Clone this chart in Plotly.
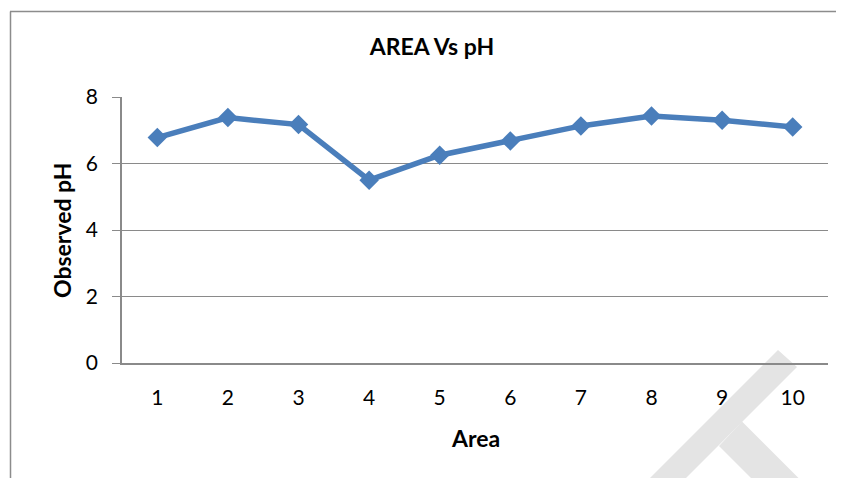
import plotly.graph_objects as go

# ---- data ----
areas = [1, 2, 3, 4, 5, 6, 7, 8, 9, 10]
area_labels = ["1", "2", "3", "4", "5", "6", "7", "8", "9", "10"]
observed_ph = [6.78, 7.38, 7.17, 5.50, 6.25, 6.68, 7.13, 7.43, 7.30, 7.10]
y_ticks = [0, 2, 4, 6, 8]

OFF = 8  # page body margin
W, H = 844 - OFF, 478 - OFF
L, R, T, B = 122 - OFF, 16, 97 - OFF, 115
PW, PH = W - L - R, H - T - B


def px(x):
    # x given in window pixels
    return (x - OFF - L) / PW


def py(y):
    return (H - B - (y - OFF)) / PH


def path(pts):
    return "M " + " L ".join(f"{px(a):.5f},{py(b):.5f}" for a, b in pts) + " Z"


FONT = "Lato, 'Noto Sans', sans-serif"
GRID = "#8a8a8a"
BLUE = "#4a7ebb"

fig = go.Figure()
fig.add_trace(go.Scatter(
    x=areas, y=observed_ph, mode="lines+markers",
    line=dict(color=BLUE, width=5.5),
    marker=dict(symbol="diamond", size=15, color=BLUE),
    showlegend=False, hoverinfo="x+y",
))

shapes = [
    # watermark strokes
    dict(type="path", xref="paper", yref="paper", layer="below",
         path=path([(650, 478), (778, 350), (797, 367), (686, 478)]),
         fillcolor="#e4e4e4", line=dict(width=0)),
    dict(type="path", xref="paper", yref="paper", layer="below",
         path=path([(719, 446), (742, 421.5), (798.5, 478), (751, 478)]),
         fillcolor="#e4e4e4", line=dict(width=0)),
    # chart border (top and left)
    dict(type="line", xref="paper", yref="paper", x0=px(10), x1=px(880), y0=py(11.5), y1=py(11.5),
         line=dict(color="#8c8c8c", width=1.5)),
    dict(type="line", xref="paper", yref="paper", x0=px(10.5), x1=px(10.5), y0=py(11.5), y1=py(478),
         line=dict(color="#8c8c8c", width=1.5)),
]

annotations = [
    dict(text="Observed pH", xref="paper", yref="paper", x=px(62), y=py(230),
         textangle=-90, showarrow=False, xanchor="center", yanchor="middle",
         font=dict(family=FONT, size=23, color="#000", weight="bold")),
    dict(text="Area", xref="paper", yref="paper", x=px(475), y=py(438),
         showarrow=False, xanchor="center", yanchor="middle",
         font=dict(family=FONT, size=23, color="#000", weight="bold")),
]

fig.update_layout(
    width=W, height=H,
    margin=dict(l=L, r=R, t=T, b=B, pad=0),
    paper_bgcolor="white", plot_bgcolor="rgba(0,0,0,0)",
    title=dict(text="AREA Vs pH", x=(432 - OFF) / W, xref="container", xanchor="center",
               y=1 - (47 - OFF) / H, yref="container", yanchor="middle",
               font=dict(family=FONT, size=23, color="#000", weight="bold")),
    shapes=shapes, annotations=annotations,
    font=dict(family=FONT, color="#000"),
)
fig.update_xaxes(
    range=[0.5, 10.5], tickmode="array", tickvals=areas, ticktext=area_labels,
    showgrid=False, zeroline=False, showline=True, linecolor=GRID, linewidth=1.5,
    ticks="", ticklabelstandoff=15, tickfont=dict(family=FONT, size=21, color="#000"),
)
fig.update_yaxes(
    range=[0, 8], tickmode="array", tickvals=y_ticks,
    showgrid=True, gridcolor=GRID, gridwidth=1.4, zeroline=False,
    showline=True, linecolor=GRID, linewidth=1.5,
    ticks="outside", ticklen=8, tickcolor=GRID, tickwidth=1.4,
    ticklabelstandoff=10, tickfont=dict(family=FONT, size=21, color="#000"),
)

fig.write_html("out.html")
